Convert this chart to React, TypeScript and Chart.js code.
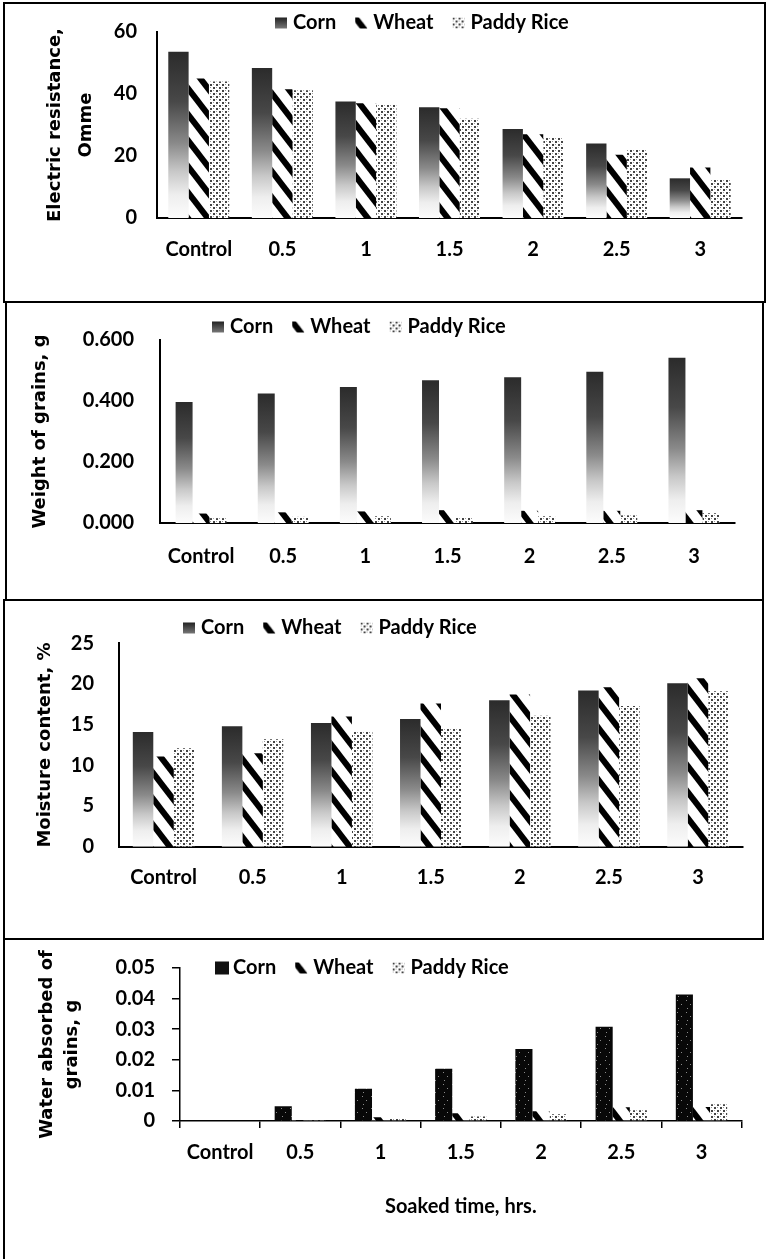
import React, { useEffect, useRef } from 'react';
import { Chart, registerables } from 'chart.js';

Chart.register(...registerables);
Chart.defaults.font.family = 'Lato';
Chart.defaults.font.size = 20;
Chart.defaults.font.weight = 'bold' as any;
Chart.defaults.color = '#000';

// ---------------- DATA ----------------
const categories = ['Control', '0.5', '1', '1.5', '2', '2.5', '3'];
const seriesLabels = ['Corn', 'Wheat', 'Paddy Rice'];

// Panel 1: electric resistance, Omme
const resistanceTicks = [0, 20, 40, 60];
const resistanceCorn = [53.6, 48.4, 37.6, 35.7, 28.7, 24.0, 12.8];
const resistanceWheat = [45.0, 41.5, 37.0, 35.4, 27.0, 20.4, 16.3];
const resistancePaddy = [44.0, 41.2, 36.7, 32.0, 26.0, 22.0, 12.4];

// Panel 2: weight of grains, g
const weightTicks = [0, 0.2, 0.4, 0.6];
const weightCorn = [0.397, 0.425, 0.446, 0.468, 0.478, 0.496, 0.542];
const weightWheat = [0.031, 0.035, 0.038, 0.042, 0.040, 0.040, 0.042];
const weightPaddy = [0.016, 0.020, 0.022, 0.018, 0.022, 0.025, 0.032];

// Panel 3: moisture content, %
const moistureTicks = [0, 5, 10, 15, 20, 25];
const moistureCorn = [14.1, 14.8, 15.2, 15.7, 18.0, 19.2, 20.1];
const moistureWheat = [11.1, 11.5, 16.0, 17.6, 18.7, 19.6, 20.7];
const moisturePaddy = [12.1, 13.2, 14.1, 14.6, 16.1, 17.3, 19.1];

// Panel 4: water absorbed of grains, g
const waterTicks = [0, 0.01, 0.02, 0.03, 0.04, 0.05];
const waterCorn = [0, 0.0048, 0.0105, 0.0171, 0.0235, 0.0308, 0.0413];
const waterWheat = [0, 0.0003, 0.0012, 0.0025, 0.0032, 0.0045, 0.0046];
const waterPaddy = [0, 0.0002, 0.0010, 0.0015, 0.0022, 0.0035, 0.0055];

const xAxisTitle = 'Soaked time, hrs.';

// ---------------- FILLS ----------------
function stripePattern(ctx: CanvasRenderingContext2D) {
  const w = 20, h = 26;
  const c = document.createElement('canvas');
  c.width = w; c.height = h;
  const g = c.getContext('2d')!;
  g.fillStyle = '#fff';
  g.fillRect(0, 0, w, h);
  g.strokeStyle = '#000';
  g.lineWidth = 6;
  for (const k of [-2, -1, 0, 1, 2]) {
    g.beginPath();
    g.moveTo(k * w - w, -h);
    g.lineTo(k * w + 2 * w, 2 * h);
    g.stroke();
  }
  return ctx.createPattern(c, 'repeat')!;
}

function dotPattern(ctx: CanvasRenderingContext2D) {
  const c = document.createElement('canvas');
  c.width = 6; c.height = 6;
  const g = c.getContext('2d')!;
  g.fillStyle = '#fff';
  g.fillRect(0, 0, 6, 6);
  g.fillStyle = '#444';
  g.fillRect(0, 0, 2, 2);
  g.fillRect(3, 3, 2, 2);
  g.fillStyle = '#999';
  g.fillRect(0, 3, 1, 1);
  g.fillRect(3, 0, 1, 1);
  return ctx.createPattern(c, 'repeat')!;
}

function darkSpeckPattern(ctx: CanvasRenderingContext2D) {
  const c = document.createElement('canvas');
  c.width = 9; c.height = 12;
  const g = c.getContext('2d')!;
  g.fillStyle = '#080808';
  g.fillRect(0, 0, 9, 12);
  g.fillStyle = '#8a8a8a';
  g.fillRect(2, 1, 1, 1);
  g.fillRect(6, 5, 1, 1);
  g.fillRect(3, 9, 1, 1);
  return ctx.createPattern(c, 'repeat')!;
}

function addCornStops(g: CanvasGradient) {
  g.addColorStop(0, '#2b2b2b');
  g.addColorStop(0.3, '#484848');
  g.addColorStop(0.55, '#8a8a8a');
  g.addColorStop(0.72, '#c8c8c8');
  g.addColorStop(0.86, '#eeeeee');
  g.addColorStop(1, '#fcfcfc');
}

const cornGradient = (c: any) => {
  const chart = c.chart;
  if (!chart.chartArea || c.type !== 'data') return '#555';
  const ys = chart.scales.y;
  const top = ys.getPixelForValue(c.raw);
  const base = ys.getPixelForValue(0);
  if (!(base - top > 1)) return '#333';
  const g = chart.ctx.createLinearGradient(0, top, 0, base);
  addCornStops(g);
  return g;
};

// ---------------- PANELS ----------------
type PanelSpec = {
  top: number;
  height: number;
  ticks: number[];
  fmt: (v: number) => string;
  corn: number[];
  wheat: number[];
  paddy: number[];
  yTitle: string | string[];
  yTitlePad: number;
  yTitleLH: number;
  yWidth: number;
  yPad: number;
  xHeight: number;
  xPad: number;
  padTop: number;
  padRight: number;
  catPct: number;
  legendX: number;
  legendY: number;
  withTicks: boolean;
  darkCorn: boolean;
  xTitle?: string;
  xTitleY?: number;
};

const panels: PanelSpec[] = [
  {
    top: 0, height: 302, ticks: resistanceTicks, fmt: (v) => String(v),
    corn: resistanceCorn, wheat: resistanceWheat, paddy: resistancePaddy,
    yTitle: ['Electric resistance,', 'Omme'], yTitlePad: 39.5, yTitleLH: 31 / 18,
    yWidth: 157, yPad: 20, xHeight: 84, xPad: 20, padTop: 30, padRight: 24,
    catPct: 0.73, legendX: 275, legendY: 23, withTicks: false, darkCorn: false,
  },
  {
    top: 302, height: 298, ticks: weightTicks, fmt: (v) => v.toFixed(3),
    corn: weightCorn, wheat: weightWheat, paddy: weightPaddy,
    yTitle: 'Weight of grains, g', yTitlePad: 29.7, yTitleLH: 1.2,
    yWidth: 160, yPad: 26, xHeight: 77, xPad: 22, padTop: 26, padRight: 31,
    catPct: 0.62, legendX: 212, legendY: 25, withTicks: false, darkCorn: false,
  },
  {
    top: 600, height: 339, ticks: moistureTicks, fmt: (v) => String(v),
    corn: moistureCorn, wheat: moistureWheat, paddy: moisturePaddy,
    yTitle: 'Moisture content, %', yTitlePad: 34.2, yTitleLH: 1.2,
    yWidth: 119, yPad: 25, xHeight: 92.3, xPad: 19.3, padTop: 43.3, padRight: 23.5,
    catPct: 0.69, legendX: 183, legendY: 28, withTicks: false, darkCorn: false,
  },
  {
    top: 939, height: 320, ticks: waterTicks, fmt: (v) => (v === 0 ? '0' : v.toFixed(2)),
    corn: waterCorn, wheat: waterWheat, paddy: waterPaddy,
    yTitle: ['Water absorbed of', 'grains, g'], yTitlePad: 34.5, yTitleLH: 25.5 / 18,
    yWidth: 180, yPad: 17, xHeight: 138, xPad: 13, padTop: 26, padRight: 24.4,
    catPct: 0.64, legendX: 215, legendY: 29, withTicks: true, darkCorn: true,
    xTitle: xAxisTitle, xTitleY: 268,
  },
];

function makeLegendPlugin(spec: PanelSpec, fills: any[]) {
  return {
    id: 'excelLegend',
    afterDraw(chart: any) {
      const ctx: CanvasRenderingContext2D = chart.ctx;
      let x = spec.legendX;
      const y = spec.legendY;
      ctx.save();
      ctx.font = 'bold 20px Lato';
      ctx.textBaseline = 'middle';
      ctx.textAlign = 'left';
      chart.data.datasets.forEach((ds: any, i: number) => {
        const bw = spec.darkCorn && i === 0 ? 14 : 12;
        const bh = spec.darkCorn && i === 0 ? 13 : 11;
        ctx.save();
        ctx.translate(x, y - bh / 2);
        if (i === 0 && !spec.darkCorn) {
          const g = ctx.createLinearGradient(0, 0, 0, bh);
          g.addColorStop(0, '#222');
          g.addColorStop(1, '#777');
          ctx.fillStyle = g;
        } else if (i === 0) {
          ctx.fillStyle = '#111';
        } else {
          ctx.fillStyle = fills[i];
        }
        ctx.fillRect(0, 0, bw, bh);
        ctx.restore();
        const tx = x + 18;
        ctx.fillStyle = '#000';
        ctx.fillText(ds.label, tx, y);
        x = tx + ctx.measureText(ds.label).width + 19;
      });
      if (spec.xTitle) {
        const area = chart.chartArea;
        ctx.textAlign = 'center';
        ctx.fillText(spec.xTitle, (area.left + area.right) / 2, spec.xTitleY || 0);
      }
      ctx.restore();
    },
  };
}

function Panel({ spec }: { spec: PanelSpec }) {
  const ref = useRef<HTMLCanvasElement>(null);
  useEffect(() => {
    const canvas = ref.current!;
    const c2 = canvas.getContext('2d')!;
    const stripes = stripePattern(c2);
    const dots = dotPattern(c2);
    const dark = darkSpeckPattern(c2);
    const cornFill = spec.darkCorn ? dark : cornGradient;
    const ticks = spec.ticks;
    const step = ticks[1] - ticks[0];
    const gridOn = spec.withTicks;
    const labelFont = { family: 'Lato', size: 20, weight: 'bold' };
    const chart = new Chart(canvas, {
      type: 'bar',
      data: {
        labels: categories,
        datasets: [
          { label: seriesLabels[0], data: spec.corn, backgroundColor: cornFill as any, borderWidth: 0 },
          { label: seriesLabels[1], data: spec.wheat, backgroundColor: stripes as any, borderWidth: 0 },
          { label: seriesLabels[2], data: spec.paddy, backgroundColor: dots as any, borderWidth: 0 },
        ],
      },
      options: {
        responsive: false,
        animation: false,
        devicePixelRatio: 1,
        layout: { padding: { top: spec.padTop, right: spec.padRight, left: 0, bottom: 0 } },
        datasets: { bar: { categoryPercentage: spec.catPct, barPercentage: 1 } },
        plugins: {
          legend: { display: false },
          tooltip: { enabled: false },
          title: { display: false },
        },
        scales: {
          x: {
            grid: {
              display: gridOn,
              drawOnChartArea: false,
              drawTicks: gridOn,
              tickLength: 7,
              color: '#000',
              lineWidth: 1.5,
              offset: true,
            },
            border: { display: true, color: '#000', width: gridOn ? 1.5 : 2 },
            ticks: {
              color: '#000',
              font: labelFont,
              padding: spec.xPad,
              maxRotation: 0,
              autoSkip: false,
            },
            title: { display: false },
            afterFit: (s: any) => { s.height = spec.xHeight; },
          },
          y: {
            min: ticks[0],
            max: ticks[ticks.length - 1],
            grid: {
              display: gridOn,
              drawOnChartArea: false,
              drawTicks: gridOn,
              tickLength: 8,
              color: '#000',
              lineWidth: 1.5,
            },
            border: { display: true, color: '#000', width: gridOn ? 1.5 : 2 },
            ticks: {
              stepSize: step,
              color: '#000',
              font: labelFont,
              padding: spec.yPad,
              callback: (v: any) => spec.fmt(Number(v)),
            },
            title: {
              display: true,
              text: spec.yTitle,
              color: '#000',
              font: { family: 'DejaVu Sans', size: 18, weight: 'bold', lineHeight: spec.yTitleLH },
              padding: { top: spec.yTitlePad, bottom: 0 },
            },
            afterFit: (s: any) => { s.width = spec.yWidth; },
          },
        },
      },
      plugins: [makeLegendPlugin(spec, [null, stripes, dots])],
    } as any);
    return () => chart.destroy();
  }, [spec]);
  return (
    <canvas
      ref={ref}
      width={766}
      height={spec.height}
      style={{ position: 'absolute', left: 0, top: spec.top, width: 766, height: spec.height }}
    />
  );
}

const borderStyle = (l: number, t: number, r: number, b: number, sides = 'all'): React.CSSProperties => ({
  position: 'absolute',
  left: l,
  top: t,
  width: r - l,
  height: b - t,
  boxSizing: 'border-box',
  borderStyle: 'solid',
  borderColor: '#000',
  borderWidth: sides === 'all' ? 2 : '0 0 0 2px',
  pointerEvents: 'none',
});

export default function App() {
  return (
    <div style={{ position: 'absolute', left: 0, top: 0, width: 766, height: 1259, background: '#fff', overflow: 'hidden' }}>
      {panels.map((p, i) => (
        <Panel key={i} spec={p} />
      ))}
      <div style={borderStyle(3, 2, 766, 303)} />
      <div style={borderStyle(5, 301, 764, 601)} />
      <div style={borderStyle(3, 599, 764, 940)} />
      <div style={borderStyle(3, 938, 6, 1259, 'left')} />
    </div>
  );
}
